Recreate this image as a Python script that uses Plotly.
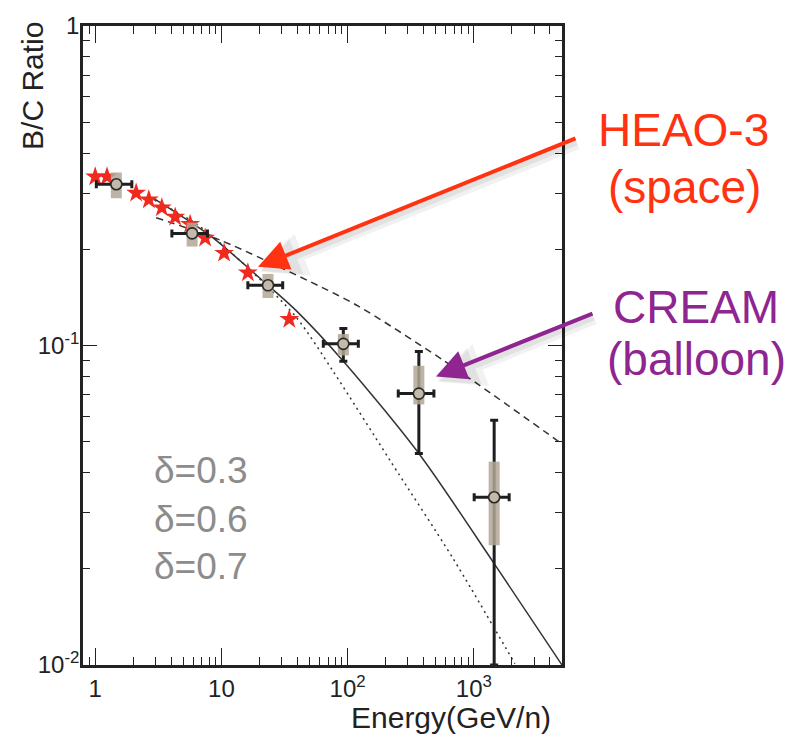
import plotly.graph_objects as go
import numpy as np

# ---------------- data ----------------
# Model curves: B/C ratio vs energy for three diffusion indices
E_d03 = [3.04, 9.76, 60.5, 121.6, 573, 5000]
R_d03 = [0.251, 0.2138, 0.153, 0.1328, 0.0899, 0.0492]

E_d06 = [2.88, 8.14, 23.4, 39.5, 92.5, 367, 1424, 5000]
R_d06 = [0.2894, 0.2207, 0.1543, 0.1281, 0.0893, 0.0459, 0.0210, 0.0100]

E_d07 = [2.95, 6.39, 15.9, 39.5, 77.1, 216.7, 687, 2115]
R_d07 = [0.2850, 0.2395, 0.1763, 0.122, 0.0828, 0.0437, 0.0215, 0.0101]

# HEAO-3 measurements
HEAO_E = [1.00, 1.24, 2.11, 2.66, 3.37, 4.30, 5.65, 7.43, 10.5, 16.2, 34.5]
HEAO_R = [0.3375, 0.3375, 0.2999, 0.286, 0.2697, 0.2525, 0.2395, 0.2169, 0.1946, 0.169, 0.1208]

# CREAM measurements
CREAM_E = [1.47, 5.86, 23.4, 92.5, 367, 1450]
CREAM_R = [0.3197, 0.2243, 0.1543, 0.1012, 0.0707, 0.0335]
CREAM_E_lo = [1.02, 4.05, 16.2, 64.2, 252, 1007]
CREAM_E_hi = [1.95, 7.75, 30.6, 121.6, 483, 1906]
CREAM_stat_lo = [0.3197, 0.2243, 0.1543, 0.0893, 0.0459, 0.0100]
CREAM_stat_hi = [0.3197, 0.2243, 0.1543, 0.113, 0.0958, 0.0584]
CREAM_sys_lo = [0.289, 0.204, 0.1408, 0.0931, 0.0654, 0.0237]
CREAM_sys_hi = [0.348, 0.2424, 0.1674, 0.1086, 0.0864, 0.0433]

# Axis ticks
X_TICKS = [1, 10, 100, 1000]
X_TICKTEXT = ["1", "10", "10<sup>2</sup>", "10<sup>3</sup>"]
Y_TICKS = [0.01, 0.1, 1]
Y_TICKTEXT = ["10<sup>-2</sup>", "10<sup>-1</sup>", "1"]
X_MINOR = [0.9] + [m * 10 ** d for d in range(0, 4) for m in range(2, 10) if m * 10 ** d < 5000]
Y_MINOR = [m * 10 ** d for d in (-2, -1) for m in range(2, 10)]

DELTA_LABELS = ["δ=0.3", "δ=0.6", "δ=0.7"]

# ---------------- figure ----------------
W, H = 804, 737
L, R_, T, B = 83, 242, 15, 72
PW, PH = W - L - R_, H - T - B
FONT = "Liberation Sans, Arial, Helvetica, sans-serif"
INK = "#222222"


def px(x):
    return (x - L) / PW


def py(y):
    return (H - B - y) / PH


fig = go.Figure()

line_col = "#333333"
fig.add_trace(go.Scatter(x=E_d03, y=R_d03, mode="lines", line=dict(color=line_col, width=1.5, dash="7px,5px", shape="spline", smoothing=0.8), hoverinfo="skip"))
fig.add_trace(go.Scatter(x=E_d06, y=R_d06, mode="lines", line=dict(color=line_col, width=1.5, shape="spline", smoothing=0.8), hoverinfo="skip"))
fig.add_trace(go.Scatter(x=E_d07, y=R_d07, mode="lines", line=dict(color=line_col, width=1.5, dash="2px,4px", shape="spline", smoothing=0.8), hoverinfo="skip"))

# HEAO-3 stars
fig.add_trace(go.Scatter(x=HEAO_E, y=HEAO_R, mode="markers",
                         marker=dict(symbol="star", size=15, color="#f02a1f", line=dict(width=0))))

# CREAM statistical error bars (black)
fig.add_trace(go.Scatter(
    x=CREAM_E, y=CREAM_R, mode="markers", marker=dict(size=1, color="rgba(0,0,0,0)"),
    error_x=dict(type="data", symmetric=False,
                 array=[h - e for h, e in zip(CREAM_E_hi, CREAM_E)],
                 arrayminus=[e - l for l, e in zip(CREAM_E_lo, CREAM_E)],
                 color="#1e1e1e", thickness=3, width=4),
    error_y=dict(type="data", symmetric=False,
                 array=[h - r for h, r in zip(CREAM_stat_hi, CREAM_R)],
                 arrayminus=[r - l for l, r in zip(CREAM_stat_lo, CREAM_R)],
                 color="#1e1e1e", thickness=3, width=4),
))
# CREAM systematic bands (grey-tan bars)
fig.add_trace(go.Scatter(
    x=CREAM_E, y=CREAM_R, mode="markers", marker=dict(size=1, color="rgba(0,0,0,0)"),
    error_y=dict(type="data", symmetric=False,
                 array=[h - r for h, r in zip(CREAM_sys_hi, CREAM_R)],
                 arrayminus=[r - l for l, r in zip(CREAM_sys_lo, CREAM_R)],
                 color="rgba(178,167,150,0.85)", thickness=11, width=0),
))
# CREAM points
fig.add_trace(go.Scatter(x=CREAM_E, y=CREAM_R, mode="markers",
                         marker=dict(symbol="circle", size=11, color="#c3baab", line=dict(color="#2a2a2a", width=1.6))))

axis_common = dict(type="log", showgrid=False, zeroline=False, showline=True, linecolor=INK, linewidth=2.6,
                   mirror="ticks", ticks="inside", tickcolor=INK, tickwidth=1.4,
                   tickfont=dict(family=FONT, size=24, color=INK))

fig.update_xaxes(**axis_common, range=[np.log10(0.8), np.log10(5000)], tickmode="array",
                 tickvals=X_TICKS, ticktext=X_TICKTEXT, ticklen=17,
                 minor=dict(tickmode="array", tickvals=X_MINOR, ticks="inside", ticklen=8, tickcolor=INK, tickwidth=1.4, showgrid=False))
fig.update_yaxes(**axis_common, range=[-2, 0], tickmode="array",
                 tickvals=Y_TICKS, ticktext=Y_TICKTEXT, ticklen=14, ticklabelstandoff=-4,
                 minor=dict(tickmode="array", tickvals=Y_MINOR, ticks="inside", ticklen=7, tickcolor=INK, tickwidth=1.4, showgrid=False))

ann = []
# axis titles
ann.append(dict(text="B/C Ratio", x=px(33), y=py(76), textangle=-90, font=dict(family=FONT, size=30, color=INK)))
ann.append(dict(text="Energy(GeV/n)", x=px(450.5), y=py(718), font=dict(family=FONT, size=30, color=INK)))

# delta labels
for txt, yc in zip(DELTA_LABELS, [467.5, 516.5, 565]):
    ann.append(dict(text=txt, x=px(152), y=py(yc), xanchor="left", font=dict(family=FONT, size=37, color="#8c8c8c")))

# experiment labels
RED = "#ff3311"
PURPLE = "#8e2590"
ann.append(dict(text="HEAO-3", x=px(683.5), y=py(121), font=dict(family=FONT, size=46, color=RED)))
ann.append(dict(text="(space)", x=px(684.5), y=py(179), font=dict(family=FONT, size=46, color=RED)))
ann.append(dict(text="CREAM", x=px(696), y=py(301), font=dict(family=FONT, size=46, color=PURPLE)))
ann.append(dict(text="(balloon)", x=px(696.5), y=py(354), font=dict(family=FONT, size=46, color=PURPLE)))

for a in ann:
    a.setdefault("xanchor", "center")
    a.update(xref="paper", yref="paper", yanchor="middle", showarrow=False)


def arrow(head, tail, color, width, size):
    return dict(text=" ", font=dict(size=1), xref="paper", yref="paper",
                x=px(head[0]), y=py(head[1]), ax=tail[0] - head[0], ay=tail[1] - head[1],
                axref="pixel", ayref="pixel", showarrow=True, arrowhead=2, arrowsize=size,
                arrowwidth=width, arrowcolor=color, standoff=0)

# soft shadows
ann.append(arrow((261, 265), (579, 137), "rgba(0,0,0,0.05)", 10, 0.9))
ann.append(arrow((260, 264), (578, 135), "rgba(0,0,0,0.06)", 6, 1.3))
ann.append(arrow((439, 377), (596, 314), "rgba(0,0,0,0.05)", 10, 0.9))
ann.append(arrow((438, 376), (595, 312), "rgba(0,0,0,0.06)", 6, 1.3))
# arrows
ann.append(arrow((258, 260), (577, 131), RED, 4, 1.5))
ann.append(arrow((436, 371.5), (594, 308), PURPLE, 4, 1.5))

fig.update_layout(width=W, height=H, margin=dict(l=L, r=R_, t=T, b=B, pad=0),
                  paper_bgcolor="white", plot_bgcolor="white", showlegend=False,
                  annotations=ann)

fig.write_html("out.html")
